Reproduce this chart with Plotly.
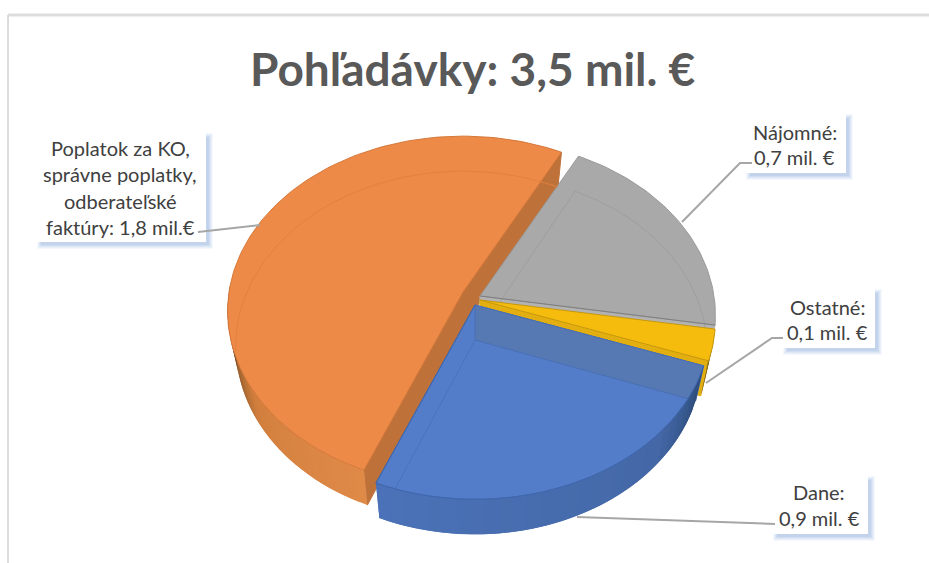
import math
import plotly.graph_objects as go

# ---- chart data -------------------------------------------------------
TITLE = "Pohľadávky: 3,5 mil. €"
CATEGORIES = ["Nájomné", "Ostatné", "Dane", "Poplatok"]
VALUES = [0.7, 0.1, 0.9, 1.8]
LABELS = [
    ["Nájomné:", "0,7 mil. €"],
    ["Ostatné:", "0,1 mil. €"],
    ["Dane:", "0,9 mil. €"],
    ["Poplatok za KO,", "správne poplatky,", "odberateľské", "faktúry: 1,8 mil.€"],
]
TOP_COLORS = ["#A9A9A9", "#F5BC0E", "#537DC9", "#EE8A47"]

# ---- 3-D pie projection (pixel axes) -----------------------------------
W, H = 929, 563
START = 27.5
RX, RY, PERSP = 234.0, 173.0, 0.11
DEPTH, BOTTOM_X = 35.0, 0.965
TIPS = {"Nájomné": (480, 296), "Ostatné": (480, 300),
        "Dane": (475, 305), "Poplatok": (463, 292)}

total = sum(VALUES)
spans = {}
a = START
for c, v in zip(CATEGORIES, VALUES):
    spans[c] = (a, a + 360 * v / total)
    a += 360 * v / total


def pt(cat, deg, bottom=False):
    t = math.radians(deg)
    u, v = math.sin(t), math.cos(t)
    s = 1 / (1 + PERSP * v)
    dx, dy = RX * u * s, -RY * v * s
    tx, ty = TIPS[cat]
    if bottom:
        return tx + dx * BOTTOM_X, ty + dy + DEPTH
    return tx + dx, ty + dy


def arc(cat, a0, a1, bottom=False, n=60):
    return [pt(cat, a0 + (a1 - a0) * i / n, bottom) for i in range(n + 1)]


def tip(cat, bottom=False):
    x, y = TIPS[cat]
    return (x, y + DEPTH) if bottom else (x, y)


fig = go.Figure()


def poly(pts, fill, line=None, width=1.0, opacity=1.0):
    fig.add_trace(go.Scatter(
        x=[p[0] for p in pts] + [pts[0][0]], y=[p[1] for p in pts] + [pts[0][1]],
        mode="lines", fill="toself", fillcolor=fill, opacity=opacity,
        line=dict(color=line or fill, width=width), hoverinfo="skip", showlegend=False))


def path(pts, color, width=1.0, opacity=1.0):
    fig.add_trace(go.Scatter(
        x=[p[0] for p in pts], y=[p[1] for p in pts], mode="lines", opacity=opacity,
        line=dict(color=color, width=width), hoverinfo="skip", showlegend=False))


def mix(c0, c1, t):
    a_ = [int(c0[i:i + 2], 16) for i in (1, 3, 5)]
    b_ = [int(c1[i:i + 2], 16) for i in (1, 3, 5)]
    return "#" + "".join(f"{round(p + (q - p) * t):02x}" for p, q in zip(a_, b_))


def side(cat, a0, a1, shade, n):
    # strips overlap one step so that no seams show between them
    step = (a1 - a0) / n
    for i in range(n):
        d0 = a0 + step * i
        d1 = min(a0 + step * (i + 2), a1)
        ar = [pt(cat, d0 + (d1 - d0) * k / 3) for k in range(4)]
        br = [pt(cat, d0 + (d1 - d0) * k / 3, True) for k in range(4)]
        poly(ar + br[::-1], shade((i + .5) / n), width=0)


g0, g1 = spans["Nájomné"]
y0, y1 = spans["Ostatné"]
b0, b1 = spans["Dane"]
o0, o1 = spans["Poplatok"]

# orange cut faces (behind the other slices)
poly([pt("Poplatok", o1), pt("Poplatok", o1, True), tip("Poplatok", True), tip("Poplatok")], "#BE723A")
poly([pt("Poplatok", o0), pt("Poplatok", o0, True), tip("Poplatok", True), tip("Poplatok")], "#BE723A")

# grey slice: front wall, top, ghost of the bottom face
poly([tip("Nájomné"), pt("Nájomné", g1), pt("Nájomné", g1, True), tip("Nájomné", True)], "#B2B2B2", "#B2B2B2")
poly([tip("Nájomné")] + arc("Nájomné", g0, g1), TOP_COLORS[0], "#9A9A9A", 1)
path(arc("Nájomné", g0, g1, True), "#9E9E9E", 1)
path([pt("Nájomné", g0, True), tip("Nájomné", True)], "#9E9E9E", 1)
path([tip("Nájomné"), pt("Nájomné", g1)], "#7F7F7F", 1)

# yellow slice
poly([tip("Ostatné"), pt("Ostatné", y1), pt("Ostatné", y1, True), tip("Ostatné", True)], "#E2AE10", "#E2AE10")
side("Ostatné", y0, y1, lambda t: mix("#C99A10", "#6F5A14", t), 6)
poly([tip("Ostatné")] + arc("Ostatné", y0, y1, n=10), TOP_COLORS[1], "#C7980E", 1)


# orange outer wall and top
def orange_shade(t):
    if t < .5:
        return mix("#E08A48", "#D27F3E", t / .5)
    return mix("#D27F3E", "#6A4520", min((t - .5) / .35, 1))


side("Poplatok", o0, 272, orange_shade, 34)
poly([tip("Poplatok")] + arc("Poplatok", o0, o1, n=120), TOP_COLORS[3], "#D5783A", 1)
path(arc("Poplatok", 262, o1, True), "#E2813F", 1)

# blue slice
poly([tip("Dane")] + arc("Dane", b0, b1, n=60), TOP_COLORS[2], "#3F67AD", 1)
poly([tip("Dane"), pt("Dane", b0), pt("Dane", b0, True), tip("Dane", True)], "#5678B3", "#4A70B5", 1)
path([tip("Dane", True), pt("Dane", b1, True)], "#4A72BC", 1)


def blue_shade(t):
    if t < .25:
        return mix("#2C4A78", "#4468A6", t / .25)
    return mix("#4468A6", "#4B72B8", (t - .25) / .75)


side("Dane", b0, b1, blue_shade, 30)
path(arc("Dane", b0, b1), "#3F67AD", 1)
path([tip("Dane"), pt("Dane", b1)], "#3F67AD", 1)

# ---- label boxes (below the traces) --------------------------------------
BOXES = [(745, 113, 846, 173), (782, 288, 875, 348), (772, 475, 868, 534), (36, 132, 206, 242)]
shapes = []
for x0, y0_, x1, y1_ in BOXES:
    for grow, op in ((3, .05), (2, .06), (1, .07), (0, .08), (-1, .09)):
        shapes.append(dict(type="rect", layer="below", xref="x", yref="y",
                           x0=x0 + 4 - grow, x1=x1 + 4 + grow, y0=y0_ + 4 - grow, y1=y1_ + 4 + grow,
                           fillcolor="#4472C4", opacity=op, line_width=0))
    shapes.append(dict(type="rect", layer="below", xref="x", yref="y", x0=x0, x1=x1, y0=y0_, y1=y1_,
                       fillcolor="#FFFFFF", line_width=0))
# picture frame
shapes.append(dict(type="line", layer="below", xref="x", yref="y", x0=8, x1=W, y0=15, y1=15,
                   line=dict(color="#DDDDDD", width=3)))
shapes.append(dict(type="line", layer="below", xref="x", yref="y", x0=8, x1=8, y0=15, y1=H,
                   line=dict(color="#D0D0D0", width=1.5)))

# ---- leader lines --------------------------------------------------------
LEADERS = [
    [(682, 222), (740, 163), (752, 163)],
    [(706, 383), (772, 338), (783, 338)],
    [(577, 517), (740, 523), (775, 524)],
    [(260, 225), (198, 232)],
]
for L in LEADERS:
    path(L, "#A6A6A6", 2)

# ---- texts ---------------------------------------------------------------
annotations = [dict(x=472, y=68, xref="x", yref="y", text=TITLE, showarrow=False,
                    font=dict(family="Lato", size=46, color="#595959", weight="bold"),
                    xanchor="center", yanchor="middle")]
LINE_START = [132, 307, 492, 148]
LINE_STEP = [25, 25, 26, 26.3]
for lab, box, y_s, step in zip(LABELS, BOXES, LINE_START, LINE_STEP):
    for i, line in enumerate(lab):
        annotations.append(dict(x=(box[0] + box[2]) / 2 - 1, y=y_s + i * step, xref="x", yref="y",
                                text=line, showarrow=False, xanchor="center", yanchor="middle",
                                font=dict(family="Lato", size=20, color="#404040")))

fig.update_layout(
    width=W, height=H, margin=dict(l=0, r=0, t=0, b=0),
    paper_bgcolor="#FFFFFF", plot_bgcolor="#FFFFFF",
    xaxis=dict(range=[0, W], visible=False, fixedrange=True),
    yaxis=dict(range=[H, 0], visible=False, fixedrange=True),
    shapes=shapes, annotations=annotations, showlegend=False,
)
fig.write_html("out.html", config={"displayModeBar": False},
               post_script="document.body.style.margin='0';document.body.style.overflow='hidden';")
